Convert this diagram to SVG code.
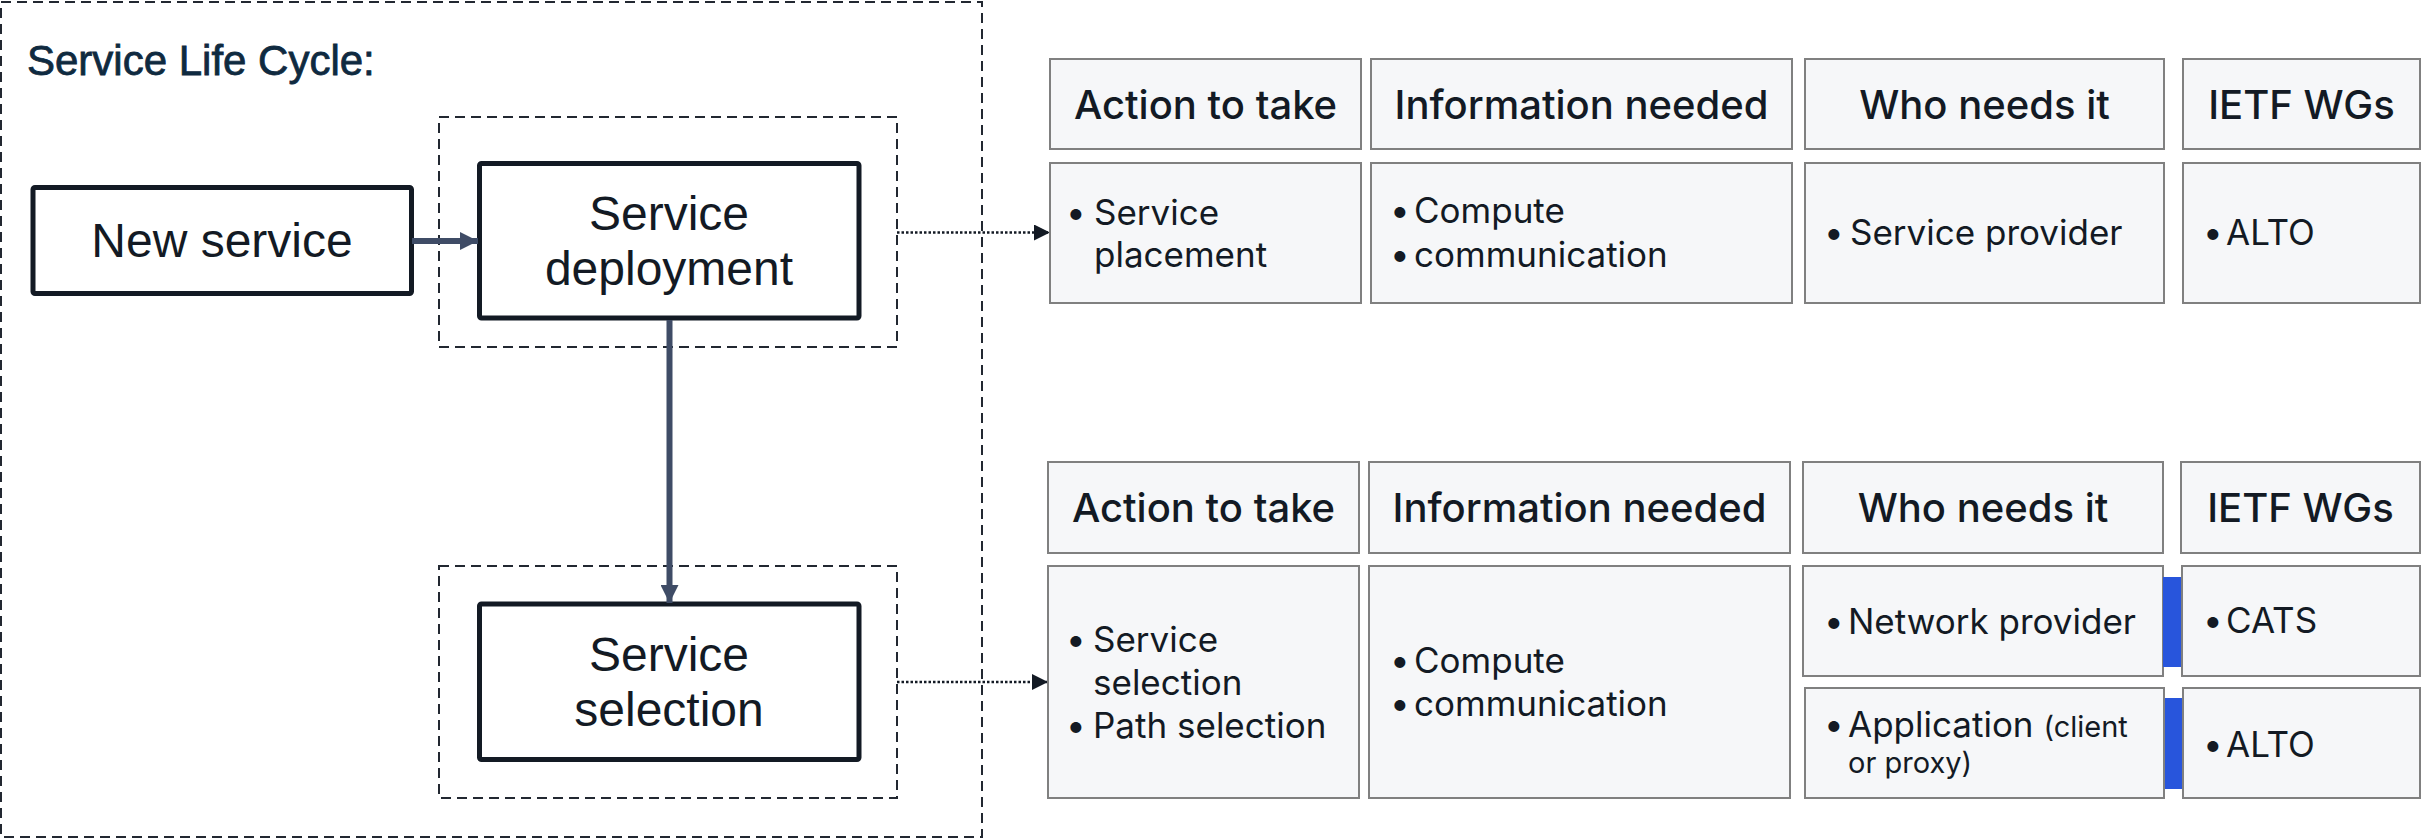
<svg xmlns="http://www.w3.org/2000/svg" width="2422" height="840" viewBox="0 0 2422 840">
<defs>
<style>
.dash{fill:none;stroke:#222831;stroke-width:2;stroke-dasharray:10 6}
.box{fill:#ffffff;stroke:#131a24;stroke-width:5;}
.btxt{font-family:"Liberation Sans",Arial,sans-serif;font-size:48px;fill:#131a24;text-anchor:middle}
.title{font-family:"Liberation Sans",Arial,sans-serif;font-size:42px;fill:#0f2a40;stroke:#0f2a40;stroke-width:0.8}
.cell{fill:#f6f7f9;stroke:#808080;stroke-width:2}
.hd{font-family:Inter,"Liberation Sans",sans-serif;font-size:40px;font-weight:500;fill:#131a24;text-anchor:middle}
.tx{font-family:Inter,"Liberation Sans",sans-serif;font-size:35px;fill:#131a24}
.sm{font-size:29px}
.bar{fill:#2855dc}
.solid{fill:none;stroke:#3f4c66;stroke-width:6}
.dot{fill:none;stroke:#131a24;stroke-width:2.5;stroke-dasharray:2.5 2}
</style>
<marker id="ah" viewBox="0 0 18 18" refX="18" refY="9" markerWidth="18" markerHeight="18" markerUnits="userSpaceOnUse" orient="auto">
<path d="M0,0 L18,9 L0,18 z" fill="#3f4c66"/>
</marker>
<marker id="ahd" viewBox="0 0 16 16" refX="16" refY="8" markerWidth="16" markerHeight="16" markerUnits="userSpaceOnUse" orient="auto">
<path d="M0,0 L16,8 L0,16 z" fill="#131a24"/>
</marker>
</defs>
<rect width="2422" height="840" fill="#ffffff"/>

<g id="lifecycle">
<rect class="dash" x="1" y="2" width="981" height="835"/>
<text class="title" x="27" y="75">Service Life Cycle:</text>
</g>

<g id="deploy-frame"><rect class="dash" x="439" y="117" width="458" height="230"/></g>
<g id="select-frame"><rect class="dash" x="439" y="566" width="458" height="232"/></g>

<g id="new-service">
<rect class="box" x="33" y="187.5" width="378.5" height="106" rx="2"/>
<text class="btxt" x="222" y="257">New service</text>
</g>
<g id="service-deployment">
<rect class="box" x="479.5" y="163.5" width="379.5" height="154.5" rx="2"/>
<text class="btxt" x="669" y="230">Service</text>
<text class="btxt" x="669" y="285">deployment</text>
</g>
<g id="service-selection">
<rect class="box" x="479.5" y="604" width="379.5" height="155.5" rx="2"/>
<text class="btxt" x="669" y="671">Service</text>
<text class="btxt" x="669" y="726">selection</text>
</g>

<g id="connectors">
<line class="solid" x1="412" y1="241" x2="478" y2="241" marker-end="url(#ah)"/>
<line class="solid" x1="669.5" y1="320" x2="669.5" y2="603" marker-end="url(#ah)"/>
<line class="dot" x1="897" y1="232.5" x2="1050" y2="232.5" marker-end="url(#ahd)"/>
<line class="dot" x1="897" y1="682" x2="1048" y2="682" marker-end="url(#ahd)"/>
</g>

<g id="table-deployment">
<rect class="cell" x="1050" y="59" width="311" height="90"/>
<rect class="cell" x="1371" y="59" width="421" height="90"/>
<rect class="cell" x="1805" y="59" width="359" height="90"/>
<rect class="cell" x="2183" y="59" width="237" height="90"/>
<text class="hd" x="1205.5" y="119">Action to take</text>
<text class="hd" x="1581.5" y="119">Information needed</text>
<text class="hd" x="1984.5" y="119">Who needs it</text>
<text class="hd" x="2301.5" y="119">IETF WGs</text>
<rect class="cell" x="1050" y="163" width="311" height="140"/>
<rect class="cell" x="1371" y="163" width="421" height="140"/>
<rect class="cell" x="1805" y="163" width="359" height="140"/>
<rect class="cell" x="2183" y="163" width="237" height="140"/>
<text class="tx" x="1066" y="225">•</text><text class="tx" x="1094" y="225">Service</text>
<text class="tx" x="1094" y="267">placement</text>
<text class="tx" x="1390" y="223">•</text><text class="tx" x="1414" y="223">Compute</text>
<text class="tx" x="1390" y="267">•</text><text class="tx" x="1414" y="267">communication</text>
<text class="tx" x="1824" y="245">•</text><text class="tx" x="1850" y="245">Service provider</text>
<text class="tx" x="2203" y="245">•</text><text class="tx" x="2226" y="245">ALTO</text>
</g>

<g id="table-selection">
<rect class="cell" x="1048" y="462" width="311" height="91"/>
<rect class="cell" x="1369" y="462" width="421" height="91"/>
<rect class="cell" x="1803" y="462" width="360" height="91"/>
<rect class="cell" x="2181" y="462" width="239" height="91"/>
<text class="hd" x="1203.5" y="522">Action to take</text>
<text class="hd" x="1579.5" y="522">Information needed</text>
<text class="hd" x="1983" y="522">Who needs it</text>
<text class="hd" x="2300.5" y="522">IETF WGs</text>
<rect class="cell" x="1048" y="566" width="311" height="232"/>
<rect class="cell" x="1369" y="566" width="421" height="232"/>
<rect class="cell" x="1803" y="566" width="360" height="110"/>
<rect class="cell" x="1805" y="688" width="359" height="110"/>
<rect class="cell" x="2182" y="566" width="238" height="110"/>
<rect class="cell" x="2183" y="688" width="237" height="110"/>
<rect class="bar" x="2163" y="577" width="18" height="90"/>
<rect class="bar" x="2165" y="698" width="17" height="91"/>
<text class="tx" x="1066" y="652">•</text><text class="tx" x="1093" y="652">Service</text>
<text class="tx" x="1093" y="695">selection</text>
<text class="tx" x="1066" y="738">•</text><text class="tx" x="1093" y="738">Path selection</text>
<text class="tx" x="1390" y="673">•</text><text class="tx" x="1414" y="673">Compute</text>
<text class="tx" x="1390" y="716">•</text><text class="tx" x="1414" y="716">communication</text>
<text class="tx" x="1824" y="634">•</text><text class="tx" x="1848" y="634">Network provider</text>
<text class="tx" x="1824" y="737">•</text><text class="tx" x="1848" y="737">Application <tspan class="sm">(client</tspan></text>
<text class="tx sm" x="1848" y="773">or proxy)</text>
<text class="tx" x="2203" y="633">•</text><text class="tx" x="2226" y="633">CATS</text>
<text class="tx" x="2203" y="757">•</text><text class="tx" x="2226" y="757">ALTO</text>
</g>
</svg>
